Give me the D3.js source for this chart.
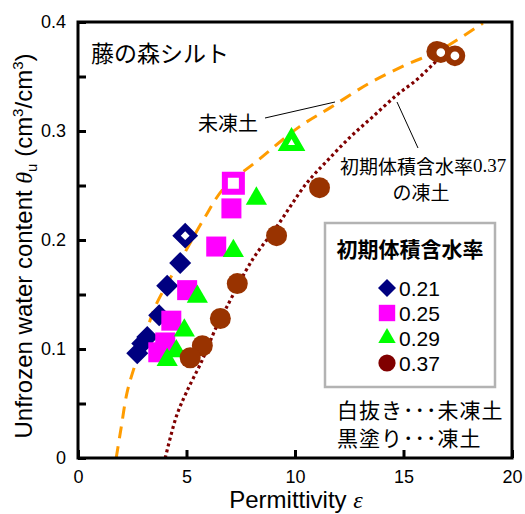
<!DOCTYPE html>
<html>
<head>
<meta charset="utf-8">
<script src="https://cdn.jsdelivr.net/npm/d3@7"></script>
<style>
  html, body { margin: 0; padding: 0; background: #fff; }
  svg { display: block; }
  .jp { font-family: "Noto Sans CJK JP", sans-serif; }
  .lat { font-family: "Liberation Sans", Arial, sans-serif; }
</style>
</head>
<body>
<svg id="chart" width="525" height="514"></svg>
<script>
// Initial volumetric water content groups
const groups = ["0.21", "0.25", "0.29", "0.37"];

// Frozen-soil measurements (filled markers): permittivity and unfrozen water content
const eps021 = [4.71, 4.11, 3.74, 3.19, 2.96, 2.73];
const theta021 = [0.179, 0.158, 0.131, 0.111, 0.105, 0.096];
const eps025 = [7.07, 6.37, 5.03, 4.30, 4.02, 3.70];
const theta025 = [0.229, 0.194, 0.154, 0.126, 0.106, 0.097];
const eps029 = [8.22, 7.16, 5.50, 4.90, 4.53, 4.11];
const theta029 = [0.238, 0.190, 0.148, 0.117, 0.098, 0.090];
const eps037 = [16.54, 11.13, 9.15, 7.34, 6.56, 5.73, 5.17];
const theta037 = [0.373, 0.248, 0.204, 0.160, 0.128, 0.103, 0.092];

// Unfrozen-soil measurements (open markers)
const epsOpen021 = [4.94], thetaOpen021 = [0.204];
const epsOpen025 = [7.16], thetaOpen025 = [0.252];
const epsOpen029 = [9.84], thetaOpen029 = [0.289];
const epsOpen037 = [16.72, 17.37], thetaOpen037 = [0.372, 0.369];

// Calibration curve for unfrozen soil (dashed)
const curveUnfrozenEps = [1.76, 1.99, 2.26, 2.59, 3.14, 3.56, 4.80, 5.82, 6.74, 8.22, 10.21, 11.59, 13.44, 15.15, 16.67, 18.66];
const curveUnfrozenTheta = [0.000, 0.028, 0.060, 0.083, 0.115, 0.139, 0.184, 0.220, 0.248, 0.272, 0.304, 0.321, 0.344, 0.361, 0.374, 0.399];
// Curve for frozen soil with initial water content 0.37 (dotted)
const curveFrozenEps = [4.02, 4.53, 4.99, 5.73, 6.37, 6.84, 8.04, 9.15, 10.53, 11.45, 12.52, 13.58, 14.69, 15.61, 16.35, 17.04];
const curveFrozenTheta = [0.000, 0.038, 0.060, 0.090, 0.120, 0.138, 0.182, 0.212, 0.252, 0.272, 0.294, 0.313, 0.333, 0.347, 0.361, 0.374];

// Axis ticks
const xTicks = [0, 5, 10, 15, 20];
const yTicks = [0, 0.05, 0.1, 0.15, 0.2, 0.25, 0.3, 0.35, 0.4];
const yTickLabels = ["0", "", "0.1", "", "0.2", "", "0.3", "", "0.4"];

const svg = d3.select("#chart");
const plotLeft = 78, plotRight = 512, plotTop = 22, plotBottom = 458;
const x = d3.scaleLinear().domain([0, 20]).range([plotLeft, plotRight]);
const y = d3.scaleLinear().domain([0, 0.4]).range([plotBottom, plotTop]);

const zip = (a, b) => a.map((v, i) => [v, b[i]]);

// Marker styles per group
const styles = {
  "0.21": { shape: "diamond", color: "#000080", legendColor: "#000080" },
  "0.25": { shape: "square", color: "#ff00ff", legendColor: "#ff00ff" },
  "0.29": { shape: "triangle", color: "#00ff00", legendColor: "#00ff00" },
  "0.37": { shape: "circle", color: "#993300", legendColor: "#800000" }
};
const filledPts = {
  "0.21": zip(eps021, theta021), "0.25": zip(eps025, theta025),
  "0.29": zip(eps029, theta029), "0.37": zip(eps037, theta037)
};
const openPts = {
  "0.21": zip(epsOpen021, thetaOpen021), "0.25": zip(epsOpen025, thetaOpen025),
  "0.29": zip(epsOpen029, thetaOpen029), "0.37": zip(epsOpen037, thetaOpen037)
};

function symbolPath(shape, scale) {
  const s = scale || 1;
  if (shape === "diamond") return d3.symbol(d3.symbolSquare, 242 * s * s)();
  if (shape === "square") return d3.symbol(d3.symbolSquare, 400 * s * s)();
  if (shape === "triangle") return d3.symbol(d3.symbolTriangle, 195 * s * s)();
  return d3.symbol(d3.symbolCircle, 346 * s * s)();
}
function openPath(shape) {
  if (shape === "diamond") return d3.symbol(d3.symbolSquare, 150)();
  if (shape === "square") return d3.symbol(d3.symbolSquare, 290)();
  if (shape === "triangle") return d3.symbol(d3.symbolTriangle, 130)();
  return d3.symbol(d3.symbolCircle, 170)();
}
const rot = shape => shape === "diamond" ? " rotate(45)" : "";

// Fitted curves
const line = d3.line().x(d => x(d[0])).y(d => y(d[1])).curve(d3.curveCatmullRom.alpha(0.5));
svg.append("path")
  .datum(zip(curveUnfrozenEps, curveUnfrozenTheta))
  .attr("d", line)
  .attr("fill", "none").attr("stroke", "#ff9c00").attr("stroke-width", 3)
  .attr("stroke-dasharray", "12,8");
svg.append("path")
  .datum(zip(curveFrozenEps, curveFrozenTheta))
  .attr("d", line)
  .attr("fill", "none").attr("stroke", "#800000").attr("stroke-width", 3.2)
  .attr("stroke-dasharray", "3,3");

// Markers
groups.forEach(g => {
  const st = styles[g];
  const gg = svg.append("g");
  gg.selectAll("path.f").data(filledPts[g]).join("path")
    .attr("class", "f")
    .attr("d", symbolPath(st.shape))
    .attr("transform", d => `translate(${x(d[0])},${y(d[1])})${rot(st.shape)}`)
    .attr("fill", st.color);
  gg.selectAll("path.o").data(openPts[g]).join("path")
    .attr("class", "o")
    .attr("d", openPath(st.shape))
    .attr("transform", d => `translate(${x(d[0])},${y(d[1])})${rot(st.shape)}`)
    .attr("fill", "#fff").attr("stroke", st.color).attr("stroke-width", 6);
});

// Axes
const xAxis = svg.append("g")
  .attr("transform", `translate(0,${plotBottom})`)
  .call(d3.axisBottom(x).tickValues(xTicks).tickSize(-8).tickPadding(12).tickFormat(d3.format("d")));
const yAxis = svg.append("g")
  .attr("transform", `translate(${plotLeft},0)`)
  .call(d3.axisLeft(y).tickValues(yTicks).tickSize(-8).tickPadding(12)
    .tickFormat((d, i) => yTickLabels[i]));
[xAxis, yAxis].forEach(a => {
  a.select(".domain").remove();
  a.selectAll(".tick line").attr("stroke", "#000").attr("stroke-width", 3);
  a.selectAll(".tick text").attr("font-family", "Liberation Sans, Arial, sans-serif")
    .attr("font-size", 18).attr("fill", "#000");
});

// Frame
svg.append("rect")
  .attr("x", plotLeft).attr("y", plotTop).attr("width", plotRight - plotLeft).attr("height", plotBottom - plotTop)
  .attr("fill", "none").attr("stroke", "#000").attr("stroke-width", 3);

// Axis titles
const xt = svg.append("text").attr("class", "lat")
  .attr("x", 296).attr("y", 508).attr("text-anchor", "middle").attr("font-size", 24);
xt.append("tspan").text("Permittivity ");
xt.append("tspan").attr("font-family", "Liberation Serif, serif").attr("font-style", "italic").text("ε");

const yt = svg.append("text").attr("class", "lat")
  .attr("transform", "translate(32,246) rotate(-90)")
  .attr("text-anchor", "middle").attr("font-size", 24);
yt.append("tspan").text("Unfrozen water content ");
yt.append("tspan").attr("font-family", "Liberation Serif, serif").attr("font-style", "italic").text("θ");
yt.append("tspan").attr("font-size", 15).attr("dy", 5).text("u");
yt.append("tspan").attr("dy", -5).text(" (cm");
yt.append("tspan").attr("font-size", 15).attr("dy", -9).text("3");
yt.append("tspan").attr("dy", 9).text("/cm");
yt.append("tspan").attr("font-size", 15).attr("dy", -9).text("3");
yt.append("tspan").attr("dy", 9).text(")");

// Title and annotations
svg.append("text").attr("class", "jp").attr("x", 91).attr("y", 52)
  .attr("dominant-baseline", "central").attr("font-size", 23).text("藤の森シルト");

svg.append("text").attr("class", "jp").attr("x", 228).attr("y", 122)
  .attr("text-anchor", "middle").attr("dominant-baseline", "central").attr("font-size", 20).text("未凍土");
svg.append("line").attr("x1", 265).attr("y1", 118).attr("x2", 335).attr("y2", 102)
  .attr("stroke", "#000").attr("stroke-width", 1);

const ft = svg.append("text").attr("class", "jp").attr("x", 340).attr("y", 165)
  .attr("dominant-baseline", "central").attr("font-size", 19);
ft.append("tspan").text("初期体積含水率");
ft.append("tspan").attr("font-family", "Liberation Serif, serif").text("0.37");
svg.append("text").attr("class", "jp").attr("x", 421).attr("y", 191)
  .attr("text-anchor", "middle").attr("dominant-baseline", "central").attr("font-size", 19).text("の凍土");
svg.append("line").attr("x1", 397).attr("y1", 102).attr("x2", 418).attr("y2", 148)
  .attr("stroke", "#000").attr("stroke-width", 1);

// Legend
const lg = svg.append("g");
lg.append("rect").attr("x", 325).attr("y", 223).attr("width", 170).attr("height", 164)
  .attr("fill", "#fff").attr("stroke", "#b3b3b3").attr("stroke-width", 2.5);
lg.append("text").attr("class", "jp").attr("x", 410).attr("y", 248)
  .attr("text-anchor", "middle").attr("dominant-baseline", "central")
  .attr("font-size", 21).attr("font-weight", "bold").text("初期体積含水率");
groups.forEach((g, i) => {
  const st = styles[g];
  const yy = 288 + i * 25;
  lg.append("path").attr("d", symbolPath(st.shape, 0.82))
    .attr("transform", `translate(387,${yy})${rot(st.shape)}`)
    .attr("fill", st.legendColor);
  lg.append("text").attr("class", "lat").attr("x", 399).attr("y", yy)
    .attr("dominant-baseline", "central").attr("font-size", 21).text(g);
});

// Marker fill notes
svg.append("text").attr("class", "jp").attr("x", 337).attr("y", 409)
  .attr("dominant-baseline", "central").attr("font-size", 21).attr("letter-spacing", 1).text("白抜き･･･未凍土");
svg.append("text").attr("class", "jp").attr("x", 337).attr("y", 437)
  .attr("dominant-baseline", "central").attr("font-size", 21).attr("letter-spacing", 1).text("黒塗り･･･凍土");
</script>
</body>
</html>
